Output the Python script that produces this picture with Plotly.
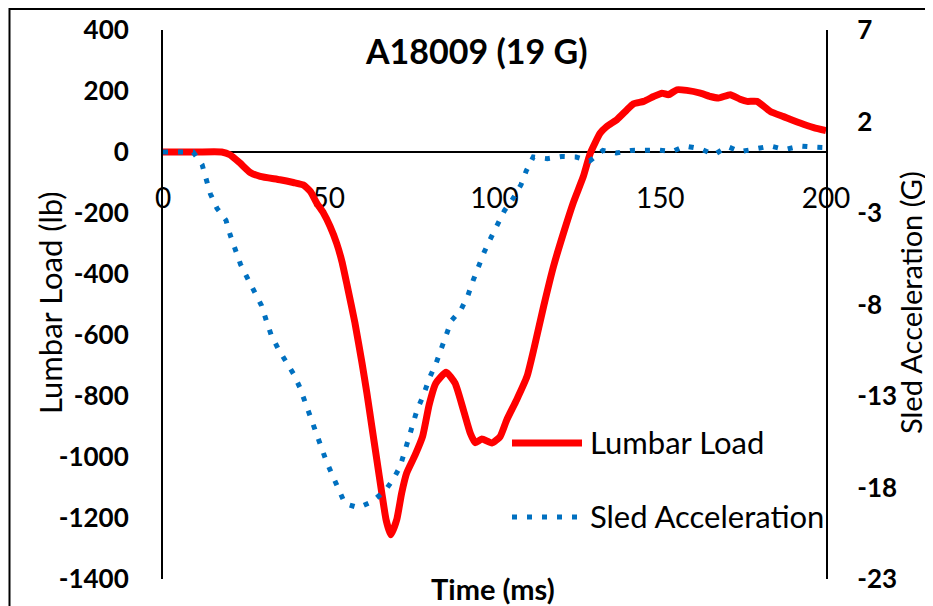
import plotly.graph_objects as go

# ---- data ----
time_load = [0, 10, 17.7, 20.2, 23.2, 26.3, 29.3, 35.3, 39.3, 42.3, 44.5, 46.4, 48.4, 50.4,
             52.4, 54.0, 55.6, 57.9, 60.0, 61.5, 63.0, 64.5, 66.0, 67.3, 68.7, 70.5, 72.0,
             73.5, 76.0, 78.3, 80.3, 82.3, 85.4, 88.1, 90.6, 92.7, 94.2, 96.2, 99.2, 101.7,
             103.7, 106.7, 109.8, 112.0, 114.8, 117.8, 120.8, 123.8, 126.8, 128.9, 131.9,
             133.9, 136.9, 139.9, 141.9, 145.0, 148.0, 150.5, 152.5, 155.0, 158.0, 162.1,
             165.1, 167.6, 171.1, 174.1, 176.2, 179.2, 183.2, 187.2, 192.2, 196.3, 200]
lumbar_load = [0, 0, 0, -9, -36, -67, -80, -91, -100, -108, -130, -168, -200, -244,
               -300, -360, -440, -560, -690, -790, -900, -1009, -1118, -1206, -1255, -1206, -1118,
               -1053, -995, -933, -828, -758, -722, -758, -845, -922, -953, -941, -954, -933,
               -878, -812, -736, -640, -507, -375, -266, -165, -80, -4, 62,
               84, 106, 138, 158, 166, 182, 193, 188, 204, 202, 193,
               182, 177, 188, 173, 166, 166, 133, 116, 95, 80, 70]

time_sled = [0, 4.5, 9.1, 11.8, 13.2, 14.3, 16.3, 19.0, 20.3, 21.7, 23.4, 25.4, 27.6, 29.7,
             31.1, 32.6, 34.7, 37.1, 39.5, 41.3, 42.9, 44.7, 46.2, 47.7, 49.2, 51.0, 52.8,
             54.9, 58.9, 63.1, 67.0, 69.4, 71.5, 73.0, 74.2, 75.4, 76.7, 78.5, 80.5, 82.3,
             83.8, 85.3, 87.0, 89.9, 92.0, 93.5, 95.1, 96.9, 98.8, 100.9, 103.0, 105.7, 108.0,
             109.6, 111.7, 115.9, 120.3, 124.6, 128.7, 132.7, 136.8, 141.2, 145.6, 149.7,
             153.6, 157.5, 162.1, 166.3, 170.2, 174.1, 178.6, 183.2, 187.6, 192.2, 196.4, 200]
sled_accel = [0.33, 0.33, 0.33, -0.36, -1.18, -1.96, -2.75, -3.40, -4.22, -5.00, -5.81, -6.53,
              -7.31, -8.05, -8.84, -9.65, -10.41, -11.12, -11.83, -12.54, -13.36, -14.18,
              -14.94, -15.76, -16.53, -17.29, -18.06, -18.88, -19.10, -18.77, -18.17, -17.57,
              -16.86, -16.04, -15.27, -14.51, -13.74, -12.98, -11.96, -11.25, -10.47, -9.65,
              -8.88, -8.28, -7.50, -6.71, -5.92, -5.13, -4.40, -3.62, -2.87, -2.18, -1.45,
              -0.69, 0.06, -0.03, 0.09, 0.06, -0.16, 0.42, 0.28, 0.42, 0.44, 0.44, 0.36,
              0.66, 0.51, 0.18, 0.64, 0.35, 0.50, 0.66, 0.47, 0.66, 0.60, 0.57]

x_ticks = [0, 50, 100, 150, 200]
y_ticks = [-1400, -1200, -1000, -800, -600, -400, -200, 0, 200, 400]
y2_ticks = [-23, -18, -13, -8, -3, 2, 7]

chart_title = "A18009 (19 G)"
x_title = "Time (ms)"
y_title = "Lumbar Load (lb)"
y2_title = "Sled Acceleration (G)"
series_names = ["Lumbar Load", "Sled Acceleration"]

RED = "#FF0000"
BLUE = "#0070C0"
FONT = "Lato"

fig = go.Figure()
fig.add_trace(go.Scatter(
    x=time_load, y=lumbar_load, mode="lines", name=series_names[0],
    line=dict(color=RED, width=7, shape="spline", smoothing=0.5),
))
fig.add_trace(go.Scatter(
    x=time_sled, y=sled_accel, mode="lines", name=series_names[1], yaxis="y2",
    line=dict(color=BLUE, width=5, dash="5px,10px"),
))

ymin, ymax = y_ticks[0], y_ticks[-1]
zero_pos = (0 - ymin) / (ymax - ymin)

# the page body has an 8px margin, so the figure is drawn from (8, 8) in the window
OFF = 8
FIG_W, FIG_H = 933 - OFF, 606 - OFF
ML, MR, MT, MB = 163 - OFF, 107, 30 - OFF, 27

fig.update_layout(
    width=FIG_W, height=FIG_H,
    margin=dict(l=ML, r=MR, t=MT, b=MB, autoexpand=False),
    paper_bgcolor="white", plot_bgcolor="white",
    showlegend=False,
    font=dict(family=FONT, color="black"),
    xaxis=dict(
        range=[x_ticks[0], x_ticks[-1]], tickvals=x_ticks,
        ticktext=[str(v) for v in x_ticks],
        showline=True, linecolor="black", linewidth=2,
        anchor="free", position=zero_pos, automargin=False,
        showgrid=False, zeroline=False,
        ticks="outside", ticklen=21, tickcolor="rgba(0,0,0,0)",
        tickfont=dict(family=FONT, size=28, color="black"),
        layer="below traces",
    ),
    yaxis=dict(
        range=[ymin, ymax], tickvals=y_ticks,
        ticktext=[str(v) for v in y_ticks], automargin=False,
        showline=True, linecolor="black", linewidth=2,
        showgrid=False, zeroline=False,
        ticks="outside", ticklen=27, tickcolor="rgba(0,0,0,0)",
        tickfont=dict(family=FONT, size=26, color="black", weight="bold"),
    ),
    yaxis2=dict(
        range=[y2_ticks[0], y2_ticks[-1]], tickvals=y2_ticks,
        ticktext=[str(v) for v in y2_ticks], automargin=False,
        overlaying="y", side="right",
        showline=True, linecolor="black", linewidth=2,
        showgrid=False, zeroline=False,
        ticks="outside", ticklen=24, tickcolor="rgba(0,0,0,0)",
        tickfont=dict(family=FONT, size=26, color="black", weight="bold"),
    ),
)

W, H = FIG_W - ML - MR, FIG_H - MT - MB
def px(xp):  # window pixel x -> paper fraction
    return (xp - OFF - ML) / W
def py(yp):  # window pixel y -> paper fraction
    return (FIG_H - MB - (yp - OFF)) / H

annotations = [
    dict(text=chart_title, x=px(476), y=py(50), xref="paper", yref="paper",
         showarrow=False, xanchor="center", yanchor="middle",
         font=dict(family=FONT, size=34, color="black", weight="bold")),
    dict(text=x_title, x=px(493), y=py(588), xref="paper", yref="paper",
         showarrow=False, xanchor="center", yanchor="middle",
         font=dict(family=FONT, size=29, color="black", weight="bold")),
    dict(text=y_title, x=px(50), y=py(303), xref="paper", yref="paper",
         showarrow=False, xanchor="center", yanchor="middle", textangle=-90,
         font=dict(family=FONT, size=31, color="black")),
    dict(text=y2_title, x=px(910), y=py(303), xref="paper", yref="paper",
         showarrow=False, xanchor="center", yanchor="middle", textangle=-90,
         font=dict(family=FONT, size=29, color="black")),
    dict(text=series_names[0], x=px(588), y=py(442), xref="paper", yref="paper",
         showarrow=False, xanchor="left", yanchor="middle",
         font=dict(family=FONT, size=31, color="black")),
    dict(text=series_names[1], x=px(588), y=py(516), xref="paper", yref="paper",
         showarrow=False, xanchor="left", yanchor="middle",
         font=dict(family=FONT, size=31, color="black")),
]

shapes = [
    # chart border (top and left edges visible in the reference)
    dict(type="line", xref="paper", yref="paper",
         x0=px(9), x1=px(933), y0=py(9), y1=py(9),
         line=dict(color="black", width=2), layer="above"),
    dict(type="line", xref="paper", yref="paper",
         x0=px(9.5), x1=px(9.5), y0=py(8), y1=py(606),
         line=dict(color="black", width=2), layer="above"),
    # legend samples
    dict(type="line", xref="paper", yref="paper",
         x0=px(512), x1=px(582), y0=py(443), y1=py(443),
         line=dict(color=RED, width=7)),
    dict(type="line", xref="paper", yref="paper",
         x0=px(512), x1=px(584), y0=py(517), y1=py(517),
         line=dict(color=BLUE, width=5, dash="5px,10px")),
]

fig.update_layout(annotations=annotations, shapes=shapes)

fig.write_html("out.html", config={"displayModeBar": False})
